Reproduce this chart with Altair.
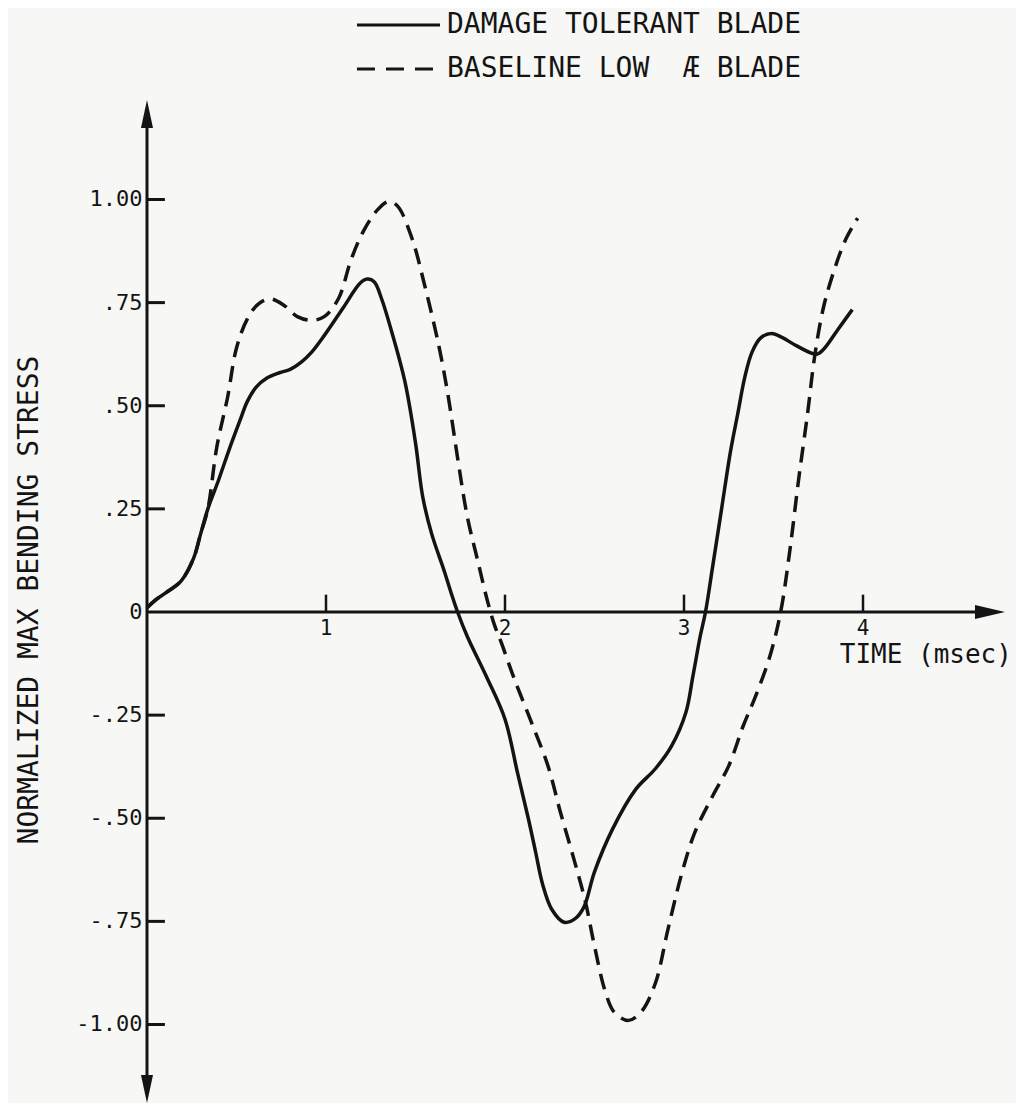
import altair as alt
import pandas as pd

# ---- data ----
dt_time = [0.0, 0.05, 0.10, 0.19, 0.26, 0.30, 0.34, 0.40, 0.46, 0.52, 0.56, 0.61, 0.67, 0.74, 0.80,
           0.86, 0.92, 0.99, 1.10, 1.19, 1.23, 1.27, 1.31, 1.36, 1.44, 1.50, 1.54, 1.59, 1.66, 1.70,
           1.735, 1.79, 1.90, 2.00, 2.07, 2.13, 2.17, 2.21, 2.26, 2.33, 2.39, 2.44, 2.50, 2.60, 2.73,
           2.84, 2.93, 3.01, 3.05, 3.09, 3.12, 3.16, 3.21, 3.26, 3.30, 3.34, 3.38, 3.43, 3.49, 3.55,
           3.63, 3.74, 3.78, 3.86, 3.94]
dt_stress = [0.01, 0.03, 0.045, 0.075, 0.13, 0.19, 0.25, 0.32, 0.395, 0.465, 0.51, 0.545, 0.567, 0.58, 0.588,
             0.605, 0.63, 0.67, 0.74, 0.797, 0.807, 0.80, 0.76, 0.69, 0.56, 0.41, 0.28, 0.19, 0.10, 0.045,
             0.0, -0.06, -0.16, -0.26, -0.39, -0.50, -0.58, -0.66, -0.72, -0.752, -0.744, -0.716, -0.63, -0.527, -0.43,
             -0.38, -0.325, -0.244, -0.155, -0.06, 0.0, 0.11, 0.25, 0.39, 0.48, 0.57, 0.63, 0.665, 0.675, 0.665,
             0.645, 0.625, 0.637, 0.685, 0.733]

bl_time = [0.0, 0.05, 0.10, 0.19, 0.26, 0.30, 0.34, 0.39, 0.45, 0.50, 0.56, 0.62, 0.69, 0.77, 0.84,
           0.92, 0.99, 1.07, 1.14, 1.21, 1.29, 1.35, 1.40, 1.48, 1.55, 1.63, 1.68, 1.74, 1.79, 1.85,
           1.90, 1.94, 1.98, 2.05, 2.15, 2.24, 2.31, 2.39, 2.45, 2.50, 2.56, 2.61, 2.69, 2.76, 2.84, 2.91,
           2.99, 3.06, 3.16, 3.25, 3.33, 3.40, 3.48, 3.54, 3.59, 3.64, 3.69, 3.73, 3.78, 3.84, 3.90, 3.97]
bl_stress = [0.01, 0.03, 0.045, 0.075, 0.13, 0.19, 0.25, 0.40, 0.52, 0.64, 0.71, 0.746, 0.759, 0.742, 0.716,
             0.707, 0.716, 0.76, 0.854, 0.924, 0.976, 0.995, 0.984, 0.906, 0.794, 0.646, 0.53, 0.36, 0.23, 0.12,
             0.03, -0.03, -0.075, -0.16, -0.27, -0.373, -0.486, -0.607, -0.704, -0.81, -0.92, -0.97, -0.99, -0.97, -0.90, -0.77,
             -0.63, -0.535, -0.446, -0.373, -0.277, -0.204, -0.107, 0.0, 0.145, 0.32, 0.48, 0.62, 0.74, 0.83, 0.90, 0.955]

y_tick_values = [1.0, 0.75, 0.5, 0.25, 0.0, -0.25, -0.5, -0.75, -1.0]
y_tick_labels = ["1.00", ".75", ".50", ".25", "0", "-.25", "-.50", "-.75", "-1.00"]
x_tick_values = [1, 2, 3, 4]
x_tick_labels = ["1", "2", "3", "4"]
legend_labels = ["DAMAGE TOLERANT BLADE", "BASELINE LOW \u00a0\u00c6 BLADE"]
x_title = "TIME (msec)"
y_title = "NORMALIZED MAX BENDING STRESS"

# ---- scales ----
W, H = 1008, 1095
X_DOMAIN = [-0.7765, 4.8547]
Y_DOMAIN = [-1.1903, 1.4642]
xs = alt.Scale(domain=X_DOMAIN, nice=False, zero=False)
ys = alt.Scale(domain=Y_DOMAIN, nice=False, zero=False)
INK = "#141414"
FONT = "DejaVu Sans Mono"


def X(f):
    return alt.X(f, type="quantitative", scale=xs, axis=None)


def Y(f):
    return alt.Y(f, type="quantitative", scale=ys, axis=None)


solid_df = pd.DataFrame({"t": dt_time, "s": dt_stress})
dash_df = pd.DataFrame({"t": bl_time, "s": bl_stress})

solid = alt.Chart(solid_df).mark_line(color=INK, strokeWidth=3.5, interpolate="catmull-rom").encode(
    x=X("t"), y=Y("s"))
dashed = alt.Chart(dash_df).mark_line(color=INK, strokeWidth=3.5, interpolate="catmull-rom",
                                      strokeDash=[16, 9]).encode(x=X("t"), y=Y("s"))

# axes lines
yaxis_df = pd.DataFrame({"x": [0.0], "y": [-1.1564], "y2": [1.2073]})
yaxis = alt.Chart(yaxis_df).mark_rule(color=INK, strokeWidth=3).encode(
    x=X("x"), y=Y("y"), y2="y2")
xaxis_df = pd.DataFrame({"x": [0.0], "x2": [4.71], "y": [0.0]})
xaxis = alt.Chart(xaxis_df).mark_rule(color=INK, strokeWidth=3).encode(
    x=X("x"), x2="x2", y=Y("y"))

up_df = pd.DataFrame({"x": [0.0], "y": [1.2073]})
up = alt.Chart(up_df).mark_point(shape="M0,-1L0.43,1L-0.43,1Z", filled=True, size=784,
                                 color=INK, opacity=1).encode(x=X("x"), y=Y("y"))
down_df = pd.DataFrame({"x": [0.0], "y": [-1.1564]})
down = alt.Chart(down_df).mark_point(shape="M0,1L0.43,-1L-0.43,-1Z", filled=True, size=784,
                                     color=INK, opacity=1).encode(x=X("x"), y=Y("y"))
right_df = pd.DataFrame({"x": [4.7095], "y": [0.0]})
right = alt.Chart(right_df).mark_point(shape="M1,0L-1,-0.47L-1,0.47Z", filled=True, size=900,
                                       color=INK, opacity=1).encode(x=X("x"), y=Y("y"))

# ticks
yt_df = pd.DataFrame({"x": 0.0, "x2": 0.1, "y": [v for v in y_tick_values if v != 0]})
yticks = alt.Chart(yt_df).mark_rule(color=INK, strokeWidth=3).encode(x=X("x"), x2="x2", y=Y("y"))
xt_df = pd.DataFrame({"x": x_tick_values, "y": 0.0, "y2": 0.042})
xticks = alt.Chart(xt_df).mark_rule(color=INK, strokeWidth=2.5).encode(x=X("x"), y=Y("y"), y2="y2")

# tick labels
ylab_df = pd.DataFrame({"x": -0.025, "y": y_tick_values, "label": y_tick_labels})
ylabels = alt.Chart(ylab_df).mark_text(align="right", baseline="middle", font=FONT, fontSize=22,
                                       color=INK).encode(x=X("x"), y=Y("y"), text="label:N")
xlab_df = pd.DataFrame({"x": x_tick_values, "y": -0.015, "label": x_tick_labels})
xlabels = alt.Chart(xlab_df).mark_text(align="center", baseline="top", font=FONT, fontSize=21,
                                       color=INK).encode(x=X("x"), y=Y("y"), text="label:N")

# titles
xt_title_df = pd.DataFrame({"x": [3.87], "y": [-0.105], "label": [x_title]})
xtitle = alt.Chart(xt_title_df).mark_text(align="left", baseline="middle", font=FONT, fontSize=26,
                                          color=INK).encode(x=X("x"), y=Y("y"), text="label:N")
yt_title_df = pd.DataFrame({"x": [-0.654], "y": [0.029], "label": [y_title]})
ytitle = alt.Chart(yt_title_df).mark_text(align="center", baseline="middle", angle=270, font=FONT,
                                          fontSize=28, color=INK).encode(x=X("x"), y=Y("y"), text="label:N")

# legend
leg_y = [1.4230, 1.3163]
leg1 = alt.Chart(pd.DataFrame({"x": [1.173], "x2": [1.637], "y": [leg_y[0]]})).mark_rule(
    color=INK, strokeWidth=3).encode(x=X("x"), x2="x2", y=Y("y"))
leg2 = alt.Chart(pd.DataFrame({"x": [1.173], "x2": [1.637], "y": [leg_y[1]]})).mark_rule(
    color=INK, strokeWidth=3, strokeDash=[18, 11]).encode(x=X("x"), x2="x2", y=Y("y"))
legtext = alt.Chart(pd.DataFrame({"x": 1.676, "y": leg_y, "label": legend_labels})).mark_text(
    align="left", baseline="middle", font=FONT, fontSize=28, color=INK).encode(
    x=X("x"), y=Y("y"), text="label:N")

chart = alt.layer(
    yaxis, xaxis, up, down, right, yticks, xticks, ylabels, xlabels, xtitle, ytitle,
    leg1, leg2, legtext, solid, dashed
).properties(
    width=W, height=H, padding=0, autosize=alt.AutoSizeParams(type="none"),
    background="#f7f7f5"
).configure_view(strokeWidth=0)

chart.save("out.html", embed_options={"renderer": "svg", "actions": False})
